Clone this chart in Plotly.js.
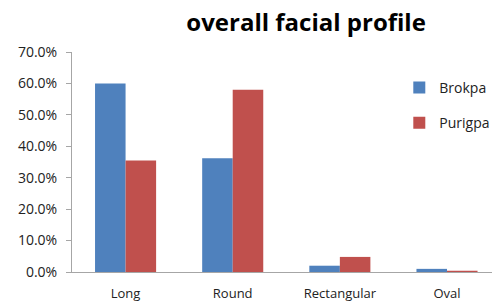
<!DOCTYPE html>
<html>
<head>
<meta charset="utf-8">
<script src="https://cdn.plot.ly/plotly-3.0.1.min.js"></script>
<style>html,body{margin:0;padding:0;background:#fff;}#chart{width:501px;height:306px;}</style>
</head>
<body>
<div id="chart"></div>
<script>
var categories = ["Long", "Round", "Rectangular", "Oval"];
var brokpa = [0.600, 0.362, 0.020, 0.010];
var purigpa = [0.355, 0.580, 0.048, 0.004];
var seriesNames = ["Brokpa", "Purigpa"];

var traces = [
  {type: "bar", name: seriesNames[0], x: categories, y: brokpa, marker: {color: "#4F81BD"}, legendgroup: "a"},
  {type: "bar", name: seriesNames[1], x: categories, y: purigpa, marker: {color: "#C0504D"}, legendgroup: "b"}
];

var layout = {
  width: 501, height: 306,
  margin: {l: 72, r: 9, t: 52, b: 34, pad: 0, autoexpand: false},
  paper_bgcolor: "#ffffff", plot_bgcolor: "#ffffff",
  font: {family: "Open Sans, Lato, sans-serif", color: "#000000", size: 13},
  title: {text: "overall facial profile", font: {family: "Open Sans, sans-serif", size: 24, color: "#000000", weight: "bold"}, x: 0.611, xanchor: "center", y: 0.925, yanchor: "middle"},
  barmode: "group", bargap: 0.43, bargroupgap: 0,
  xaxis: {range: [-0.5, 3.42], showline: true, linecolor: "#a6a6a6", linewidth: 1, ticks: "", showgrid: false, zeroline: false, automargin: false, ticklabelstandoff: 9, tickfont: {size: 13, color: "#222"}},
  yaxis: {range: [0, 0.7], dtick: 0.1, tickformat: ".1%", showline: true, linecolor: "#a6a6a6", linewidth: 1, ticks: "outside", ticklen: 5, tickcolor: "#a6a6a6", showgrid: false, zeroline: false, automargin: false, ticklabelstandoff: 6, tickfont: {size: 14, color: "#222"}},
  legend: {xref: "container", yref: "container", x: 0.797, xanchor: "left", y: 0.765, yanchor: "top", font: {size: 14, color: "#222"}, tracegroupgap: 14, traceorder: "grouped", itemwidth: 30, bgcolor: "rgba(0,0,0,0)"},
  showlegend: true
};

Plotly.newPlot("chart", traces, layout, {displayModeBar: false, staticPlot: true});
</script>
</body>
</html>
